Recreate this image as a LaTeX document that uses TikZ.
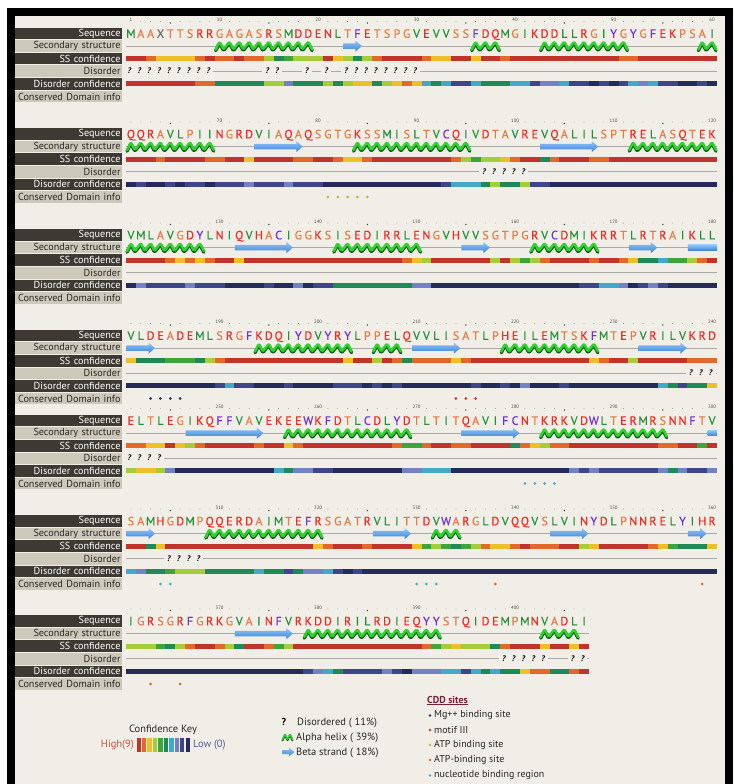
\documentclass[tikz,border=0pt]{standalone}
\usepackage{fontspec}
\setmainfont{PT Sans}
\newfontfamily\seqfont[FakeBold=0.5]{PT Sans}
\definecolor{bg}{HTML}{F0EEE6}
\definecolor{lbldk}{HTML}{3E3A33}
\definecolor{lbllt}{HTML}{CDC9BA}
\definecolor{conf9}{HTML}{C0342C}
\definecolor{conf8}{HTML}{E2692A}
\definecolor{conf7}{HTML}{EDC02A}
\definecolor{conf6}{HTML}{A6CC3A}
\definecolor{conf5}{HTML}{3EA43E}
\definecolor{conf4}{HTML}{1F8A58}
\definecolor{conf3}{HTML}{44A9C6}
\definecolor{conf2}{HTML}{7382C4}
\definecolor{conf1}{HTML}{3E4588}
\definecolor{conf0}{HTML}{262A58}
\definecolor{aagrn}{HTML}{23903A}
\definecolor{aasal}{HTML}{E67C45}
\definecolor{aared}{HTML}{EE2A22}
\definecolor{aapur}{HTML}{7030D0}
\definecolor{aagry}{HTML}{707070}
\colorlet{aaM}{aagrn}\colorlet{aaL}{aagrn}\colorlet{aaV}{aagrn}\colorlet{aaI}{aagrn}
\colorlet{aaA}{aasal}\colorlet{aaT}{aasal}\colorlet{aaS}{aasal}\colorlet{aaG}{aasal}\colorlet{aaP}{aasal}
\colorlet{aaD}{aared}\colorlet{aaE}{aared}\colorlet{aaN}{aared}\colorlet{aaQ}{aared}
\colorlet{aaK}{aared}\colorlet{aaR}{aared}\colorlet{aaH}{aared}
\colorlet{aaF}{aapur}\colorlet{aaY}{aapur}\colorlet{aaW}{aapur}\colorlet{aaC}{aapur}
\colorlet{aaX}{aagry}
\definecolor{hxlight}{HTML}{2FD22F}
\definecolor{hxdark}{HTML}{0B5E12}
\definecolor{strtop}{HTML}{90C6F8}
\definecolor{strbot}{HTML}{3D83D8}
\definecolor{coilgray}{HTML}{A9A9A9}
\definecolor{cddmg}{HTML}{2B2F66}
\definecolor{cddmotif}{HTML}{C8342C}
\definecolor{cddatp}{HTML}{A5C83A}
\definecolor{cddatpb}{HTML}{E8642A}
\definecolor{cddnuc}{HTML}{45AACB}
\definecolor{cddhead}{HTML}{7A1E3A}
\definecolor{highred}{HTML}{C8503C}
\definecolor{lowblue}{HTML}{5A5A9A}

\tikzset{
  lbldark/.style={fill=lbldk,text=white,minimum height=11.6,text width=104,align=right,
    inner xsep=1.5,inner ysep=0,font=\fontsize{10.2}{10}\selectfont},
  lbllight/.style={lbldark,fill=lbllt,text=black!85},
  aa/.style={inner sep=0,text height=8.6,text depth=0,font=\seqfont\fontsize{12}{12}\selectfont},
  qmark/.style={fill=bg,inner sep=0,minimum width=9.9,text height=6,text depth=1,
    font=\fontsize{8}{8}\selectfont\bfseries\itshape},
  rulnum/.style={inner sep=0,text=black!70,font=\fontsize{4.8}{5}\selectfont},
  rulsmall/.style={fill=black!45},
  rulbig/.style={fill=black!75},
  coil/.style={draw=coilgray,line width=0.9},
  helixdark/.style={draw=hxdark,line width=3.3,line cap=round,line join=round,rounded corners=1.2},
  helixlight/.style={draw=hxlight,line width=2.5,line cap=round,line join=round,rounded corners=1.2},
  legtext/.style={inner sep=0,anchor=west,text=black!85,font=\fontsize{10.5}{11}\selectfont},
  cddtext/.style={inner sep=0,anchor=west,text=black!85,font=\fontsize{10}{11}\selectfont}
}

\newcount\rescount
\newcount\runpos
\def\seqloop#1{\ifx\relax#1\else
  \node[aa,text=aa#1] (q\blk-\the\rescount) at ({126+9.85*(\the\rescount+0.5)},\rowy) {#1};%
  \global\advance\rescount by 1\relax
  \expandafter\seqloop\fi}
\newcommand\runbar[2]{\global\runpos=0\relax
  \foreach \rcol/\rlen in {#2}{%
    \fill[fill=conf\rcol] ({126+9.85*\the\runpos},{#1-2.5}) rectangle ++({9.85*\rlen+0.15},5);%
    \global\advance\runpos by \rlen\relax}}
\newcommand\ruler[3]{%
  \foreach \kk in {1,...,#3}{%
    \pgfmathtruncatemacro\rulG{60*(#2-1)+\kk}%
    \pgfmathtruncatemacro\rulT{mod(\rulG,10)}%
    \pgfmathtruncatemacro\rulF{mod(\rulG,5)}%
    \ifnum\rulT=0 \node[rulnum] (r\rulG) at ({126+9.85*(\kk-0.5)},{#1-1.5}) {\rulG};%
    \else\ifnum\rulG=1 \node[rulnum] (r\rulG) at ({126+9.85*(\kk-0.5)},{#1-1.5}) {\rulG};%
    \else\ifnum\rulF=0 \fill[rulbig] ({126+9.85*(\kk-0.5)},{#1+1.5}) circle (0.8);%
    \else \fill[rulsmall] ({126+9.85*(\kk-0.5)},{#1}) circle (0.45);%
    \fi\fi\fi}}
\newcommand\labelset[2]{%
  \node[lbldark] (l#1a) at (68.5,{#2}) {Sequence};
  \node[lbllight] (l#1b) at (68.5,{#2+12.6}) {Secondary structure};
  \node[lbldark] (l#1c) at (68.5,{#2+25.2}) {SS confidence};
  \node[lbllight] (l#1d) at (68.5,{#2+37.8}) {Disorder};
  \node[lbldark] (l#1e) at (68.5,{#2+50.4}) {Disorder confidence};
  \node[lbllight] (l#1f) at (68.5,{#2+63}) {Conserved Domain info};}
\newcommand\blockrow[6]{%
  \ruler{#2-12}{#1}{#3}%
  \labelset{#1}{#2}%
  \def\blk{#1}\def\rowy{#2}\global\rescount=0 \seqloop#4\relax
  \draw[coil] (126,{#2+12.6}) -- ({126+9.85*#3},{#2+12.6});%
  \runbar{#2+25.2}{#5}%
  \draw[coil] (126,{#2+37.8}) -- ({126+9.85*#3},{#2+37.8});%
  \runbar{#2+50.4}{#6}}
\newcommand\helix[3]{%
  \pgfmathsetmacro\hxa{126+9.85*(#2-1)+1}%
  \pgfmathtruncatemacro\hn{#3-#2+1}%
  \draw[helixdark] (\hxa,{#1+4.6}) \foreach \j in {1,...,\hn}{ -- ({\hxa+9.85*(\j-0.5)-1},{#1-3.0}) -- ({\hxa+9.85*\j-2},{#1+4.6})};
  \draw[helixlight] (\hxa,{#1+3.4}) \foreach \j in {1,...,\hn}{ -- ({\hxa+9.85*(\j-0.5)-1},{#1-4.4}) -- ({\hxa+9.85*\j-2},{#1+3.4})};}
\newcommand\strand[3]{%
  \pgfmathsetmacro\sxa{126+9.85*(#2-1)+0.5}%
  \pgfmathsetmacro\sxb{126+9.85*#3-0.5}%
  \shade[top color=strtop,bottom color=strbot] (\sxa,{#1-2.8}) -- ({\sxb-6.5},{#1-2.8}) -- ({\sxb-6.5},{#1-5.5}) -- (\sxb,{#1}) -- ({\sxb-6.5},{#1+5.5}) -- ({\sxb-6.5},{#1+2.8}) -- (\sxa,{#1+2.8}) -- cycle;}
\newcommand\strandnh[3]{%
  \pgfmathsetmacro\sxa{126+9.85*(#2-1)+0.5}%
  \pgfmathsetmacro\sxb{126+9.85*#3}%
  \shade[top color=strtop,bottom color=strbot] (\sxa,{#1-2.8}) rectangle (\sxb,{#1+2.8});}
\newcommand\dismarks[4]{%
  \foreach \kk in {#3,...,#4}{\node[qmark] (d#1-\kk) at ({126+9.85*(\kk-0.5)-1.5},{#2}) {?};}}
\newcommand\cddpt[3]{\fill[fill=#3] ({126+9.85*(#2-0.5)},{#1}) circle (1.5);}

\begin{document}
\begin{tikzpicture}[x=1pt,y=-1pt]
\useasboundingbox (0,0) rectangle (734,784);
\fill[white] (0,0) rectangle (734,784);
\fill[black] (7,8) rectangle (733,784);
\fill[bg] (15,16) rectangle (725,784);

% ---------- block 1
\blockrow{1}{33.5}{60}{MAAXTTSRRGAGASRSMDDENLTFETSPGVEVVSSFDQMGIKDDLLRGIYGYGFEKPSAI}
{9/2,8/1,7/4,8/1,9/1,8/2,9/1,8/2,6/1,4/1,5/1,6/3,9/1,7/1,6/1,4/1,6/1,8/1,9/4,8/1,7/2,9/2,7/1,9/2,8/1,9/11,8/2,9/8}
{9/7,8/2,4/5,6/2,2/1,4/3,6/1,4/1,6/1,7/2,4/1,6/1,7/1,8/1,7/1,3/1,4/1,3/1,1/2,3/1,4/3,3/2,1/1,2/2,3/1,1/2,0/1,1/1,0/1,1/1,3/1,2/1,3/1,1/2,0/2,1/1,0/1}
\helix{46.1}{10}{19}\strand{46.1}{23}{24}\helix{46.1}{36}{38}\helix{46.1}{43}{51}\helix{46.1}{59}{60}
\dismarks{1}{71.3}{1}{9}\dismarks{1}{71.3}{15}{16}\dismarks{1}{71.3}{19}{19}\dismarks{1}{71.3}{21}{21}\dismarks{1}{71.3}{23}{30}

% ---------- block 2
\blockrow{2}{134}{60}{QQRAVLPIINGRDVIAQAQSGTGKSSMISLTVCQIVDTAVREVQALILSPTRELASQTEK}
{9/3,8/1,9/4,8/2,9/2,7/1,9/4,8/2,9/2,8/1,7/2,8/1,9/8,8/1,6/1,5/1,6/2,7/1,8/1,9/2,4/1,8/1,9/3,8/2,9/11}
{0/1,1/1,0/2,1/1,0/1,1/2,0/1,1/3,2/1,1/3,2/1,1/3,0/12,1/1,3/3,4/1,6/1,4/2,6/1,1/2,0/17}
\helix{146.6}{1}{9}\strand{146.6}{14}{18}\helix{146.6}{24}{35}\strand{146.6}{43}{48}\helix{146.6}{52}{60}
\dismarks{2}{171.8}{37}{41}
\foreach \kk in {21,...,25}{\cddpt{197}{\kk}{cddatp}}

% ---------- block 3
\blockrow{3}{235}{60}{VMLAVGDYLNIQVHACIGGKSISEDIRRLENGVHVVSGTPGRVCDMIKRRTLRTRAIKLL}
{9/4,8/1,7/1,8/1,7/1,8/1,9/2,7/1,9/16,8/1,7/1,6/1,9/6,6/1,9/1,6/1,5/1,6/1,8/1,9/4,8/1,9/2,8/1,7/1,4/2,3/1,5/2,6/1,8/1,9/1}
{0/1,2/1,1/4,2/1,1/3,0/4,1/1,0/2,2/1,0/1,1/2,4/8,2/2,0/15,1/2,3/2,2/1,0/1,1/1,2/1,1/1,0/5}
\helix{247.6}{1}{8}\strand{247.6}{12}{17}\helix{247.6}{22}{30}\strand{247.6}{35}{37}\helix{247.6}{42}{48}\strand{247.6}{52}{54}\strandnh{247.6}{58}{60}

% ---------- block 4
\blockrow{4}{335.5}{60}{VLDEADEMLSRGFKDQIYDVYRYLPPELQVVLISATLPHEILEMTSKFMTEPVRILVKRD}
{7/1,4/3,5/3,4/1,6/1,8/1,9/12,7/1,9/2,6/1,9/1,8/1,4/1,8/4,7/1,8/1,9/12,7/1,8/1,9/2,6/1,9/5,8/3}
{0/9,1/1,3/1,1/2,0/3,1/1,0/4,1/3,0/1,1/1,0/1,1/1,0/7,1/1,0/2,1/1,0/1,2/1,0/3,1/1,0/9,3/1,4/1,1/1,4/2,7/1}
\strand{348.1}{1}{3}\helix{348.1}{14}{23}\helix{348.1}{26}{28}\strand{348.1}{30}{34}\helix{348.1}{39}{48}\strand{348.1}{53}{57}
\dismarks{4}{373.3}{58}{60}
\foreach \kk in {3,...,6}{\cddpt{398.5}{\kk}{cddmg}}
\foreach \kk in {34,...,36}{\cddpt{398.5}{\kk}{cddmotif}}

% ---------- block 5
\blockrow{5}{420.5}{60}{ELTLEGIKQFFVAVEKEEWKFDTLCDLYDTLTITQAVIFCNTKRKVDWLTERMRSNNFTV}
{8/2,7/2,9/1,7/1,6/1,8/1,9/5,8/1,9/2,7/1,8/1,9/9,8/1,5/2,8/1,9/2,8/2,9/4,4/1,8/1,7/1,6/1,8/2,9/9,8/2,9/2,5/1,9/1}
{6/1,7/2,6/1,2/1,0/10,3/1,4/1,2/2,1/2,0/7,2/2,3/3,0/12,2/1,1/1,2/1,1/6,2/1,4/1,2/1,1/2,2/1}
\strand{433.1}{7}{14}\helix{433.1}{17}{29}\strand{433.1}{35}{40}\helix{433.1}{43}{55}\strandnh{433.1}{60}{60}
\dismarks{5}{458.3}{1}{4}
\foreach \kk in {41,...,44}{\cddpt{483.5}{\kk}{cddnuc}}

% ---------- block 6
\blockrow{6}{521}{60}{SAMHGDMPQQERDAIMTEFRSGATRVLITTDVWARGLDVQQVSLVINYDLPNNRELYIHR}
{9/2,4/1,7/1,9/15,7/1,8/1,9/3,8/1,9/4,7/1,5/1,6/1,5/1,4/1,5/1,6/1,8/1,7/2,8/1,9/1,8/3,9/2,6/1,7/1,9/5,8/1,7/1,5/1,4/3,7/1}
{3/1,2/1,4/2,5/1,6/3,4/5,3/1,4/2,1/1,4/1,2/2,3/1,1/1,0/1,1/1,0/36}
\strand{533.6}{1}{3}\helix{533.6}{9}{20}\strand{533.6}{26}{29}\helix{533.6}{32}{34}\strand{533.6}{44}{47}\strand{533.6}{58}{59}
\dismarks{6}{558.8}{5}{8}
\cddpt{584}{4}{cddnuc}\cddpt{584}{5}{cddnuc}
\foreach \kk in {30,...,32}{\cddpt{584}{\kk}{cddnuc}}
\cddpt{584}{38}{cddatpb}\cddpt{584}{59}{cddatpb}

% ---------- block 7
\blockrow{7}{621}{47}{IGRSGRFGRKGVAINFVRKDDIRILRDIEQYYSTQIDEMPMNVADLI}
{6/3,5/1,4/1,6/1,8/1,9/2,8/1,6/1,4/1,9/2,8/1,5/1,6/1,9/13,8/1,5/1,6/1,7/1,6/3,4/1,8/1,9/3,7/1,9/2,7/1,9/1}
{0/18,1/1,2/1,3/1,4/1,1/4,2/1,1/1,0/1,2/3,3/2,1/1,3/1,4/1,3/1,4/2,7/1,8/2,4/2,8/1,9/1}
\strand{633.6}{12}{17}\helix{633.6}{19}{32}\helix{633.6}{43}{46}
\dismarks{7}{658.8}{39}{43}\dismarks{7}{658.8}{46}{47}
\cddpt{684}{3}{cddatpb}\cddpt{684}{6}{cddatpb}

% ---------- legend: confidence key
\node[inner sep=0,text=black!85,font=\fontsize{10.5}{11}\selectfont] (ckey) at (163,730) {Confidence Key};
\node[inner sep=0,anchor=east,text=highred,font=\fontsize{10.5}{11}\selectfont] (khigh) at (134,745) {High(9)};
\foreach \kk [count=\ii from 0] in {9,8,7,6,5,4,3,2,1,0}{%
  \fill[fill=conf\kk] ({136.5+5.45*\ii},738) rectangle ++(4.3,14);}
\node[inner sep=0,anchor=west,text=lowblue,font=\fontsize{10.5}{11}\selectfont] (klow) at (193,745) {Low (0)};

% ---------- legend: symbols
\node[inner sep=0,font=\fontsize{10}{10}\selectfont\bfseries] (kq) at (284,722) {?};
\node[legtext] (kdis) at (297,722.5) {Disordered ( 11\%)};
\draw[helixdark,line width=1.9,rounded corners=0.6] (282.5,740.5) -- (285,734.8) -- (287.5,740.5) -- (290,734.8) -- (292.5,740.5);
\draw[helixlight,line width=1.5,rounded corners=0.6] (282.5,739.6) -- (285,734) -- (287.5,739.6) -- (290,734) -- (292.5,739.6);
\node[legtext] (khx) at (296,737.5) {Alpha helix ( 39\%)};
\shade[top color=strtop,bottom color=strbot] (282,750) -- (289,750) -- (289,747.5) -- (294.5,752) -- (289,756.5) -- (289,754) -- (282,754) -- cycle;
\node[legtext] (kst) at (296,752.5) {Beta strand ( 18\%)};

% ---------- legend: CDD sites
\node[cddtext,text=cddhead,font=\fontsize{10}{11}\selectfont\bfseries] (cddh) at (427,700.5) {\underline{CDD sites}};
\fill[cddmg] (430,715.5) circle (1.4);
\node[cddtext] (c1) at (434,715.5) {Mg++ binding site};
\fill[cddmotif] (430,730) circle (1.4);
\node[cddtext] (c2) at (434,730) {motif III};
\fill[cddatp] (430,745) circle (1.4);
\node[cddtext] (c3) at (434,745) {ATP binding site};
\fill[cddatpb] (430,760) circle (1.4);
\node[cddtext] (c4) at (434,760) {ATP-binding site};
\fill[cddnuc] (430,775.5) circle (1.4);
\node[cddtext] (c5) at (434,775.5) {nucleotide binding region};
\end{tikzpicture}
\end{document}
